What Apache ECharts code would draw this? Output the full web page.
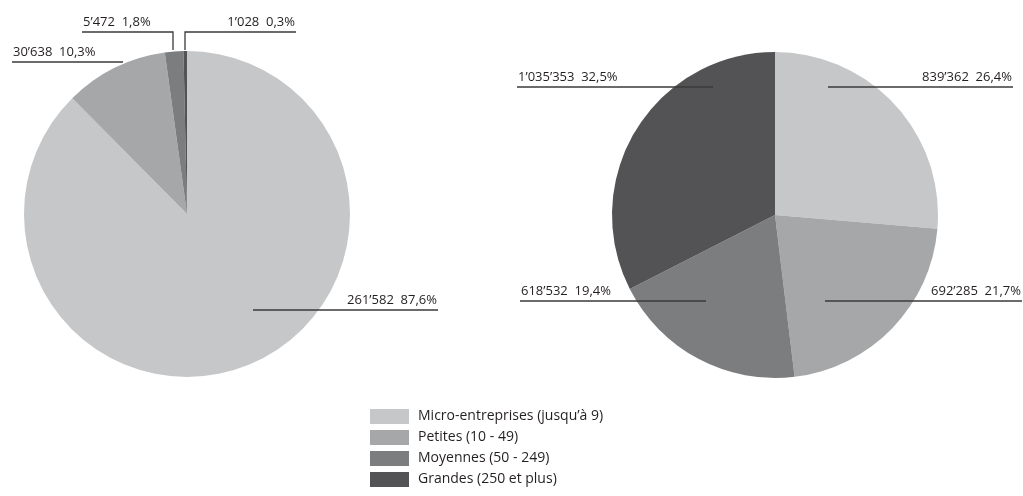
<!DOCTYPE html>
<html>
<head>
<meta charset="utf-8">
<script src="https://cdn.jsdelivr.net/npm/echarts@6/dist/echarts.min.js"></script>
<style>
  html, body { margin: 0; padding: 0; background: #fff; }
  #chart { width: 1023px; height: 496px; }
</style>
</head>
<body>
<div id="chart"></div>
<script>
// ---- Data ----
const categories = ['Micro-entreprises (jusqu’à 9)', 'Petites (10 - 49)', 'Moyennes (50 - 249)', 'Grandes (250 et plus)'];
const valuesLeft = [261582, 30638, 5472, 1028];
const percentLeft = [87.6, 10.3, 1.8, 0.3];
const valuesRight = [839362, 692285, 618532, 1035353];
const percentRight = [26.4, 21.7, 19.4, 32.5];

// ---- Styles ----
const colors = ['#c6c7c9', '#a6a7a9', '#7c7d7f', '#535355'];
const textColor = '#231f20';
const pies = [
  { center: [187, 214], radius: 163, values: valuesLeft, percents: percentLeft,
    // label leader geometry relative to pie centre (styling only)
    anchors: [
      { pts: [[66, 96], [150, 96], [251, 96]], align: 'right' },
      { pts: [[-64, -152], [-120, -152], [-175, -152]], align: 'left' },
      { pts: [[-14, -164], [-14, -182], [-105, -182]], align: 'left' },
      { pts: [[-2, -164], [-2, -182], [109, -182]], align: 'right' }
    ] },
  { center: [775, 215], radius: 163, values: valuesRight, percents: percentRight,
    anchors: [
      { pts: [[53, -128], [140, -128], [238, -128]], align: 'right' },
      { pts: [[50, 86], [150, 86], [247, 86]], align: 'right' },
      { pts: [[-69, 86], [-150, 86], [-255, 86]], align: 'left' },
      { pts: [[-62, -128], [-150, -128], [-258, -128]], align: 'left' }
    ] }
];

function fmtNum(v) {
  return String(v).replace(/\B(?=(\d{3})+(?!\d))/g, '’');
}

const chart = echarts.init(document.getElementById('chart'), null, { renderer: 'canvas' });

const series = [];
// base pies (slices)
pies.forEach(function (p) {
  series.push({
    type: 'pie',
    center: p.center,
    radius: p.radius,
    startAngle: 90,
    clockwise: true,
    silent: true,
    animation: false,
    z: 2,
    itemStyle: { borderWidth: 0 },
    label: { show: false },
    labelLine: { show: false },
    data: p.values.map(function (v, i) {
      return { name: categories[i], value: v, itemStyle: { color: colors[i] } };
    })
  });
});
// overlay pies (transparent) carrying the labels and leader lines on top
pies.forEach(function (p, si) {
  series.push({
    type: 'pie',
    center: p.center,
    radius: p.radius,
    startAngle: 90,
    clockwise: true,
    avoidLabelOverlap: false,
    silent: true,
    animation: false,
    z: 5,
    itemStyle: { borderWidth: 0, color: 'rgba(0,0,0,0)' },
    data: p.values.map(function (v, i) {
      return { name: categories[i], value: v };
    }),
    label: {
      show: true,
      position: 'outside',
      color: textColor,
      fontFamily: 'Open Sans',
      fontSize: 13,
      lineHeight: 15,
      formatter: function (params) {
        const pct = p.percents[params.dataIndex].toFixed(1).replace('.', ',');
        return fmtNum(params.value) + '  ' + pct + '%';
      }
    },
    labelLine: {
      show: true,
      lineStyle: { color: '#3a3a3a', width: 1.3 }
    },
    labelLayout: function (params) {
      const a = pies[si].anchors[params.dataIndex];
      const c = pies[si].center;
      const pts = a.pts.map(function (q) { return [c[0] + q[0], c[1] + q[1]]; });
      const end = pts[2];
      return {
        x: a.align === 'right' ? end[0] - 1 : end[0] + 1,
        y: end[1] - 2,
        align: a.align,
        verticalAlign: 'bottom',
        labelLinePoints: pts,
        hideOverlap: false
      };
    }
  });
});

chart.setOption({
  animation: false,
  backgroundColor: '#ffffff',
  color: colors,
  legend: {
    orient: 'vertical',
    left: 365,
    top: 404,
    itemWidth: 39,
    itemHeight: 15,
    itemGap: 6,
    icon: 'rect',
    selectedMode: false,
    data: categories,
    textStyle: { color: textColor, fontFamily: 'Open Sans', fontSize: 14, padding: [0, 0, 0, 4] }
  },
  series: series
});
</script>
</body>
</html>
